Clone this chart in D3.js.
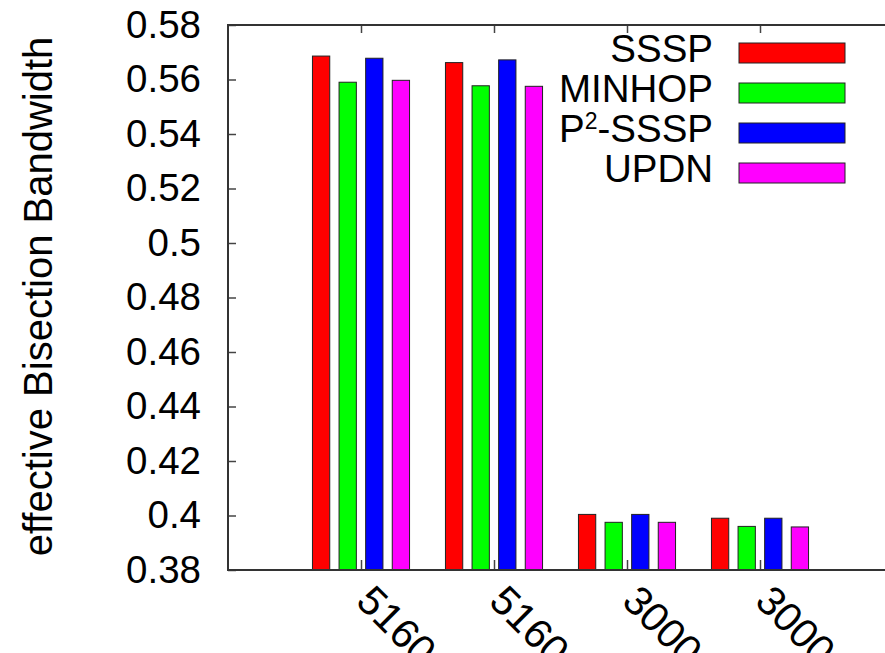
<!DOCTYPE html>
<html>
<head>
<meta charset="utf-8">
<script src="https://cdn.jsdelivr.net/npm/d3@7"></script>
<style>
  html, body { margin: 0; padding: 0; background: #fff; }
  svg { display: block; }
  text { font-family: "Liberation Sans", Arial, Helvetica, sans-serif; fill: #000; }
</style>
</head>
<body>
<svg id="chart" width="885" height="653"></svg>
<script>
// ---- data ----
const categories = ["5160", "5160", "3000", "3000"];
const seriesNames = ["SSSP", "MINHOP", "P2-SSSP", "UPDN"];
const seriesColors = ["#ff0000", "#00ff00", "#0000ff", "#ff00ff"];
const sssp   = [0.5686, 0.5662, 0.4004, 0.3990];
const minhop = [0.5590, 0.5577, 0.3975, 0.3960];
const p2sssp = [0.5678, 0.5672, 0.4004, 0.3990];
const updn   = [0.5597, 0.5575, 0.3975, 0.3958];
const yTickValues = [0.38, 0.40, 0.42, 0.44, 0.46, 0.48, 0.50, 0.52, 0.54, 0.56, 0.58];
const yTickLabels = ["0.38", "0.4", "0.42", "0.44", "0.46", "0.48", "0.5", "0.52", "0.54", "0.56", "0.58"];
const yLabel = "effective Bisection Bandwidth";

const seriesValues = [sssp, minhop, p2sssp, updn];

// ---- layout ----
const svg = d3.select("#chart");
const pL = 228, pR = 893, pT = 25, pB = 570;

const x = d3.scaleLinear().domain([-1, 4]).range([pL, pR]);
const y = d3.scaleLinear().domain([0.38, 0.58]).range([pB, pT]);

const slot = 0.2;      // per bar slot in group units
const barW = 0.13;     // bar width in group units

// ---- bars ----
seriesValues.forEach((vals, si) => {
  svg.append("g").selectAll("rect")
    .data(vals)
    .join("rect")
    .attr("x", (d, gi) => x(gi + (si - 1.5) * slot - barW / 2))
    .attr("width", x(barW) - x(0))
    .attr("y", d => y(d))
    .attr("height", d => y(0.38) - y(d))
    .attr("fill", seriesColors[si])
    .attr("stroke", "#222")
    .attr("stroke-width", 1);
});

// ---- axes ----
const tickFont = 38.5;
const yAxis = d3.axisLeft(y)
  .tickValues(yTickValues)
  .tickFormat((d, i) => yTickLabels[i])
  .tickSizeInner(-8).tickSizeOuter(0).tickPadding(27);
const gy = svg.append("g").attr("transform", `translate(${pL},0)`).call(yAxis);
gy.selectAll("text").style("font-size", tickFont + "px");

const yAxisR = d3.axisRight(y).tickValues(yTickValues).tickFormat("")
  .tickSizeInner(-8).tickSizeOuter(0);
svg.append("g").attr("transform", `translate(${pR},0)`).call(yAxisR);

const xAxis = d3.axisBottom(x).tickValues([0, 1, 2, 3])
  .tickFormat((d, i) => categories[i])
  .tickSizeInner(-10).tickSizeOuter(0);
const gx = svg.append("g").attr("transform", `translate(0,${pB})`).call(xAxis);
gx.selectAll("text")
  .style("font-size", "41px")
  .attr("text-anchor", "start")
  .attr("x", 0).attr("y", 0).attr("dy", 0)
  .attr("transform", "translate(-7,33) rotate(45)");

const xAxisT = d3.axisTop(x).tickValues([0, 1, 2, 3]).tickFormat("")
  .tickSizeInner(-8).tickSizeOuter(0);
svg.append("g").attr("transform", `translate(0,${pT})`).call(xAxisT);

svg.selectAll(".domain").remove();
svg.selectAll(".tick line").attr("stroke", "#444").attr("stroke-width", 1.5);

// frame
svg.append("rect")
  .attr("x", pL).attr("y", pT)
  .attr("width", pR - pL).attr("height", pB - pT)
  .attr("fill", "none").attr("stroke", "#333").attr("stroke-width", 2);

// y label
svg.append("text")
  .attr("transform", `translate(52,${(pT + pB) / 2 - 1}) rotate(-90)`)
  .attr("text-anchor", "middle")
  .style("font-size", "40px")
  .text(yLabel);

// ---- legend ----
const legend = svg.append("g");
seriesNames.forEach((name, i) => {
  const cy = 53 + i * 40;
  legend.append("rect")
    .attr("x", 739).attr("y", cy - 10)
    .attr("width", 106).attr("height", 20)
    .attr("fill", seriesColors[i]).attr("stroke", "#222").attr("stroke-width", 1);
  const t = legend.append("text")
    .attr("x", 713).attr("y", cy + 9)
    .attr("text-anchor", "end")
    .style("font-size", tickFont + "px");
  if (name === "P2-SSSP") {
    t.append("tspan").text("P");
    t.append("tspan").attr("dy", -13).style("font-size", "23px").text("2");
    t.append("tspan").attr("dy", 13).text("-SSSP");
  } else {
    t.text(name);
  }
});
</script>
</body>
</html>
